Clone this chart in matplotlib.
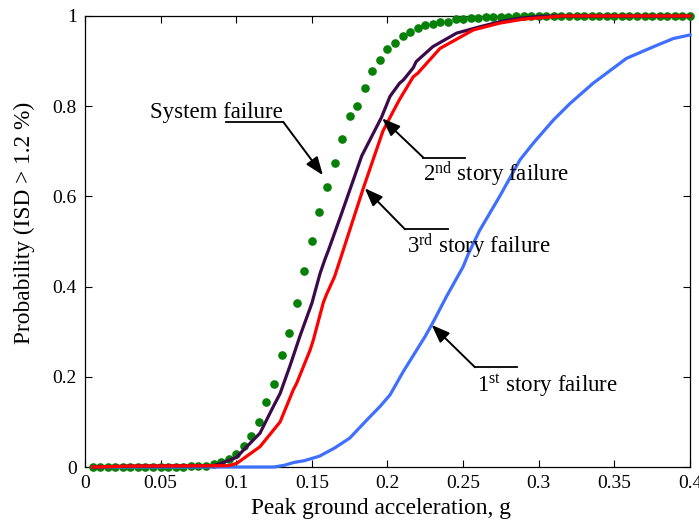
import matplotlib
matplotlib.use("Agg")
import matplotlib.pyplot as plt

plt.rcParams['font.family'] = ['Liberation Serif', 'DejaVu Serif']
plt.rcParams['mathtext.fontset'] = 'custom'
plt.rcParams['mathtext.rm'] = 'Liberation Serif'
plt.rcParams['mathtext.it'] = 'Liberation Serif:italic'

# System failure (dots)
sys_x = [0.005, 0.010, 0.015, 0.020, 0.025, 0.030, 0.035, 0.040, 0.045, 0.050,
         0.055, 0.060, 0.065, 0.070, 0.075, 0.080, 0.085, 0.090, 0.095, 0.100,
         0.105, 0.110, 0.115, 0.120, 0.125, 0.130, 0.135, 0.140, 0.145, 0.150,
         0.155, 0.160, 0.165, 0.170, 0.175, 0.180, 0.185, 0.190, 0.195, 0.200,
         0.205, 0.210, 0.215, 0.220, 0.225, 0.230, 0.235, 0.240, 0.245, 0.250,
         0.255, 0.260, 0.265, 0.270, 0.275, 0.280, 0.285, 0.290, 0.295, 0.300,
         0.305, 0.310, 0.315, 0.320, 0.325, 0.330, 0.335, 0.340, 0.345, 0.350,
         0.355, 0.360, 0.365, 0.370, 0.375, 0.380, 0.385, 0.390, 0.395, 0.400]
sys_p = [0.000, 0.000, 0.000, 0.000, 0.000, 0.001, 0.001, 0.001, 0.001, 0.001,
         0.001, 0.001, 0.001, 0.002, 0.002, 0.003, 0.007, 0.011, 0.017, 0.029,
         0.047, 0.069, 0.100, 0.145, 0.183, 0.248, 0.296, 0.363, 0.435, 0.500,
         0.565, 0.621, 0.673, 0.728, 0.779, 0.801, 0.841, 0.878, 0.903, 0.927,
         0.939, 0.956, 0.964, 0.974, 0.981, 0.982, 0.986, 0.986, 0.993, 0.993,
         0.995, 0.996, 0.997, 0.997, 0.998, 0.998, 0.999, 0.999, 1.000, 1.000,
         1.000, 1.000, 1.000, 1.000, 1.000, 1.000, 1.000, 1.000, 1.000, 1.000,
         1.000, 1.000, 1.000, 1.000, 1.000, 1.000, 1.000, 1.000, 1.000, 1.000]

# 1st story failure
s1_x = [0.005, 0.125, 0.132, 0.138, 0.145, 0.155, 0.165, 0.175, 0.188, 0.195,
        0.2017, 0.2105, 0.2248, 0.2303, 0.239, 0.250, 0.2534, 0.261, 0.274,
        0.2876, 0.2964, 0.3096, 0.3207, 0.336, 0.358, 0.376, 0.389, 0.400]
s1_p = [0.000, 0.000, 0.004, 0.010, 0.014, 0.024, 0.042, 0.064, 0.110, 0.134,
        0.160, 0.212, 0.289, 0.322, 0.378, 0.444, 0.472, 0.525, 0.599,
        0.681, 0.718, 0.769, 0.806, 0.851, 0.906, 0.932, 0.950, 0.958]

# 2nd story failure
s2_x = [0.005, 0.030, 0.085, 0.090, 0.100, 0.1157, 0.1245, 0.129, 0.1355, 0.142,
        0.150, 0.1554, 0.1587, 0.161, 0.1697, 0.183, 0.196, 0.2017, 0.208,
        0.2105, 0.217, 0.219, 0.230, 0.2457, 0.261, 0.274, 0.2876, 0.300,
        0.310, 0.400]
s2_p = [0.000, 0.002, 0.003, 0.008, 0.021, 0.075, 0.134, 0.163, 0.224, 0.289,
        0.363, 0.429, 0.461, 0.481, 0.5625, 0.690, 0.775, 0.822, 0.851,
        0.858, 0.885, 0.899, 0.932, 0.962, 0.976, 0.987, 0.995, 0.999,
        1.000, 1.000]

# 3rd story failure
s3_x = [0.005, 0.030, 0.095, 0.1003, 0.1157, 0.129, 0.1377, 0.140, 0.1488, 0.151,
        0.1576, 0.160, 0.165, 0.1697, 0.184, 0.197, 0.204, 0.208, 0.217, 0.220,
        0.2347, 0.2567, 0.274, 0.2898, 0.305, 0.315, 0.400]
s3_p = [0.000, 0.002, 0.003, 0.008, 0.045, 0.100, 0.171, 0.186, 0.259, 0.282,
        0.365, 0.385, 0.422, 0.470, 0.618, 0.745, 0.790, 0.815, 0.865, 0.873,
        0.928, 0.969, 0.984, 0.993, 0.997, 1.000, 1.000]

x_ticks = [0, 0.05, 0.1, 0.15, 0.2, 0.25, 0.3, 0.35, 0.4]
x_tick_labels = ['0', '0.05', '0.1', '0.15', '0.2', '0.25', '0.3', '0.35', '0.4']
y_ticks = [0, 0.2, 0.4, 0.6, 0.8, 1.0]
y_tick_labels = ['0', '0.2', '0.4', '0.6', '0.8', '1']

fig = plt.figure(figsize=(6.99, 5.29), dpi=100)
ax = fig.add_axes([0.1216, 0.1172, 0.8655, 0.8526])

ax.plot(sys_x, sys_p, linestyle='none', marker='o', markersize=5.2,
        color='#078007', clip_on=False, zorder=3)
ax.plot(s1_x, s1_p, color='#3f6fff', lw=2.3, clip_on=False, zorder=4)
ax.plot(s2_x, s2_p, color='#3c0a4b', lw=2.3, clip_on=False, zorder=4)
ax.plot(s3_x, s3_p, color='#ff0000', lw=2.3, clip_on=False, zorder=5)

ax.set_xlim(0, 0.4)
ax.set_ylim(0, 1)
ax.set_xticks(x_ticks)
ax.set_xticklabels(x_tick_labels)
ax.set_yticks(y_ticks)
ax.set_yticklabels(y_tick_labels)
ax.tick_params(direction='in', top=True, right=True, length=5, width=0.8,
               labelsize=14, pad=6)
for s in ax.spines.values():
    s.set_linewidth(0.9)

ax.set_xlabel('Peak ground acceleration, g', fontsize=16.8)
ax.xaxis.set_label_coords(0.490, -0.068)
ax.set_ylabel('Probability (ISD > 1.2 %)', fontsize=16.8)
ax.yaxis.set_label_coords(-0.083, 0.541)

# Callouts: horizontal leader + arrow to the curve
callouts = [
    # text, text pos, leader start, corner, arrow tip
    ('System failure', (0.0430, 0.773), (0.0930, 0.765), (0.1311, 0.765), (0.1573, 0.647)),
    ('2$^{\\mathrm{nd}}$ story failure', (0.2237, 0.633), (0.2512, 0.686), (0.2237, 0.686), (0.1965, 0.773)),
    ('3$^{\\mathrm{rd}}$ story failure', (0.2126, 0.474), (0.2402, 0.527), (0.2116, 0.527), (0.1850, 0.618)),
    ('1$^{\\mathrm{st}}$ story failure', (0.2590, 0.167), (0.2854, 0.221), (0.2579, 0.221), (0.2292, 0.315)),
]
for label, tpos, lstart, corner, tip in callouts:
    ax.text(tpos[0], tpos[1], label, fontsize=16.5, ha='left', va='baseline', zorder=6)
    ax.plot([lstart[0], corner[0]], [lstart[1], corner[1]], color='black', lw=1.3, zorder=6)
    ax.annotate('', xy=tip, xytext=corner,
                arrowprops=dict(arrowstyle='-|>,head_length=1.1,head_width=0.42',
                                color='black', lw=1.4, shrinkA=0, shrinkB=0),
                zorder=6)

fig.savefig('out.png', dpi=100)
